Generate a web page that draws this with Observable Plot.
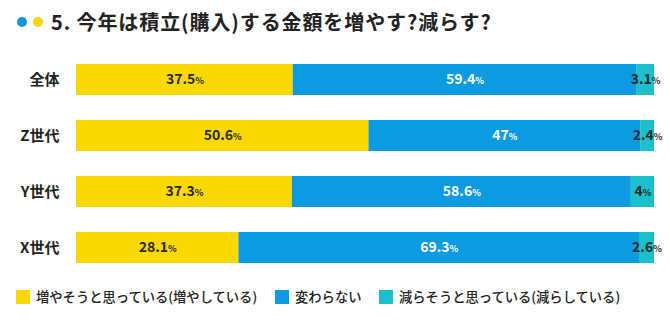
<!DOCTYPE html>
<html><head><meta charset="utf-8">
<script src="https://cdn.jsdelivr.net/npm/d3@7"></script>
<script src="https://cdn.jsdelivr.net/npm/@observablehq/plot@0.6"></script>
<style>
body{margin:0;background:#fff;font-family:"Noto Sans CJK JP","Noto Sans",sans-serif;width:670px;height:328px;overflow:hidden;}
#title{height:44px;display:flex;align-items:center;position:relative;}
.dot{position:absolute;top:17px;width:10px;height:10px;border-radius:50%;}
#title .t{position:absolute;left:51px;top:7px;font-size:20px;font-weight:700;color:#222;letter-spacing:0.9px;white-space:nowrap;}
#legend{position:relative;height:24px;margin-top:3px;}
.li{position:absolute;top:0;display:flex;align-items:center;font-size:13.3px;font-weight:500;color:#222;white-space:nowrap;}
.sw{width:14px;height:14px;margin-right:6px;}
</style></head>
<body>
<div id="title"><span class="dot" style="left:17px;background:#1497DD"></span><span class="dot" style="left:33px;background:#F8D500"></span><span class="t">5. 今年は積立(購入)する金額を増やす?減らす?</span></div>
<div id="chart"></div>
<div id="legend"></div>
<script>
const categories = ["全体", "Z世代", "Y世代", "X世代"];
const seriesNames = ["増やそうと思っている（増やしている）", "変わらない", "減らそうと思っている（減らしている）"];
const increase = [37.5, 50.6, 37.3, 28.1];
const same = [59.4, 47, 58.6, 69.3];
const decrease = [3.1, 2.4, 4, 2.6];
const colors = ["#FAD900", "#0C9BE0", "#1CC0CD"];

const seriesValues = [increase, same, decrease];
const table = [];
categories.forEach((cat, i) => {
  const total = increase[i] + same[i] + decrease[i];
  let cum = 0;
  seriesValues.forEach((vals, s) => {
    const v = vals[i];
    table.push({cat, series: seriesNames[s], si: s, value: v,
      x1: cum / total * 100, x2: (cum + v) / total * 100});
    cum += v;
  });
});

const plot = Plot.plot({
  width: 670, height: 240,
  marginLeft: 76, marginRight: 16, marginTop: 8, marginBottom: 10,
  x: {domain: [0, 100], axis: null},
  y: {domain: categories, paddingInner: 0.45, paddingOuter: 0.2, label: null, tickSize: 0, tickPadding: 17},
  color: {domain: seriesNames, range: colors},
  style: {fontFamily: '"Noto Sans CJK JP", sans-serif', fontSize: "15px", fontWeight: 700, color: "#222", background: "#fff"},
  marks: [
    Plot.barX(table, {x1: "x1", x2: "x2", y: "cat", fill: "series"}),
    Plot.text(table, {filter: d => d.si !== 1, x: d => (d.x1 + d.x2) / 2, y: "cat", text: d => String(d.value), fill: "#2a2a2a", fontSize: 14, fontWeight: 700}),
    Plot.text(table, {filter: d => d.si === 1, x: d => (d.x1 + d.x2) / 2, y: "cat", text: d => String(d.value), fill: "#ffffff", fontSize: 14, fontWeight: 700})
  ]
});
// add a smaller "%" sign to each value label
plot.querySelectorAll('g[aria-label="text"] text').forEach(t => {
  const ts = document.createElementNS("http://www.w3.org/2000/svg", "tspan");
  ts.setAttribute("font-size", "9");
  ts.textContent = "%";
  t.appendChild(ts);
});
plot.querySelectorAll('g[aria-label="y-axis tick label"] text, g[aria-label="y-axis"] text').forEach(t => {
  t.setAttribute("font-size", "15"); t.setAttribute("fill", "#222");
});
document.getElementById("chart").appendChild(plot);

const legendPos = [16, 275, 379];
const legendLabels = ["増やそうと思っている(増やしている)", "変わらない", "減らそうと思っている(減らしている)"];
const lg = document.getElementById("legend");
legendLabels.forEach((l, i) => {
  const d = document.createElement("div");
  d.className = "li";
  d.style.left = legendPos[i] + "px";
  d.innerHTML = `<span class="sw" style="background:${colors[i]}"></span><span>${l}</span>`;
  lg.appendChild(d);
});
</script>
</body></html>
